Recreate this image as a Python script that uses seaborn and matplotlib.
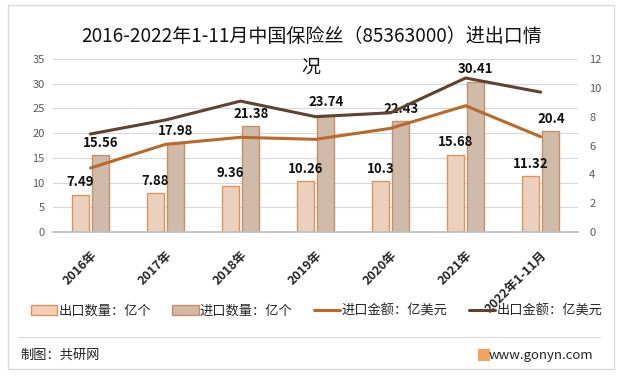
import pandas as pd
import matplotlib.pyplot as plt
import seaborn as sns
from matplotlib.patches import Rectangle, Patch
from matplotlib.lines import Line2D

# data
years = ["2016年", "2017年", "2018年", "2019年", "2020年", "2021年", "2022年1-11月"]
export_qty = [7.49, 7.88, 9.36, 10.26, 10.3, 15.68, 11.32]      # 出口数量：亿个
import_qty = [15.56, 17.98, 21.38, 23.74, 22.43, 30.41, 20.4]   # 进口数量：亿个
import_amt = [4.44, 6.08, 6.57, 6.43, 7.19, 8.76, 6.61]         # 进口金额：亿美元
export_amt = [6.80, 7.77, 9.08, 8.00, 8.27, 10.68, 9.70]        # 出口金额：亿美元

sns.set_theme(style="white")
plt.rcParams['font.family'] = ['Noto Sans CJK SC', 'DejaVu Sans']

qty = pd.DataFrame({
    "year": years * 2,
    "value": export_qty + import_qty,
    "kind": ["出口数量：亿个"] * 7 + ["进口数量：亿个"] * 7,
})

c_exp_fill, c_exp_edge = "#F3D0B5", "#D8945C"
c_imp_fill, c_imp_edge = "#D6B9A3", "#C3906C"
c_imp_line = "#B8692C"
c_exp_line = "#5E4332"

fig = plt.figure(figsize=(6.23, 3.78), dpi=100)
ax = fig.add_axes([0.085, 0.386, 0.843, 0.458])

sns.barplot(data=qty, x="year", y="value", hue="kind", ax=ax,
            palette=[c_exp_fill, c_imp_fill], width=0.55, gap=0.18,
            legend=False)
edges = [c_exp_edge] * 7 + [c_imp_edge] * 7
for bar, ec in zip(ax.patches, edges):
    bar.set_edgecolor(ec)
    bar.set_linewidth(1.0)

for cont in ax.containers:
    ax.bar_label(cont, labels=[f"{v:g}" for v in cont.datavalues],
                 padding=4, fontsize=9.5, fontweight="bold", color="#111111")

ax.set_ylim(0, 35)
ax.set_yticks(range(0, 36, 5))
ax.yaxis.grid(True, color="#D9D9D9", linewidth=0.8)
ax.set_axisbelow(True)
ax.set_xlabel("")
ax.set_ylabel("")
ax.set_xlim(-0.5, 6.5)
ax.tick_params(axis="y", labelsize=8, labelcolor="#595959", length=0, pad=6)
ax.tick_params(axis="x", length=0, pad=12)
for lab in ax.get_xticklabels():
    lab.set_rotation(45)
    lab.set_ha("right")
    lab.set_rotation_mode("anchor")
    lab.set_fontweight("bold")
    lab.set_fontsize(9)
for s in ["top", "right", "left"]:
    ax.spines[s].set_visible(False)
ax.spines["bottom"].set_color("#BFBFBF")

ax2 = ax.twinx()
pos = list(range(len(years)))
sns.lineplot(x=pos, y=import_amt, ax=ax2, color=c_imp_line, linewidth=2.2, sort=False)
sns.lineplot(x=pos, y=export_amt, ax=ax2, color=c_exp_line, linewidth=2.2, sort=False)
ax2.set_ylim(0, 12)
ax2.set_yticks(range(0, 13, 2))
ax2.tick_params(axis="y", labelsize=8, labelcolor="#595959", length=0, pad=8)
for s in ["top", "right", "left", "bottom"]:
    ax2.spines[s].set_visible(False)
ax2.set_xlim(-0.5, 6.5)

fig.text(312 / 623, 1 - 36 / 378, "2016-2022年1-11月中国保险丝（85363000）进出口情",
         ha="center", va="center", fontsize=13.7, color="#111111")
fig.text(311 / 623, 1 - 67 / 378, "况", ha="center", va="center", fontsize=13.7, color="#111111")

handles = [
    Patch(facecolor=c_exp_fill, edgecolor=c_exp_edge, label="出口数量：亿个"),
    Patch(facecolor=c_imp_fill, edgecolor=c_imp_edge, label="进口数量：亿个"),
    Line2D([], [], color=c_imp_line, linewidth=2.2, label="进口金额：亿美元"),
    Line2D([], [], color=c_exp_line, linewidth=2.2, label="出口金额：亿美元"),
]
fig.legend(handles=handles, loc="center", bbox_to_anchor=(0.508, 1 - 311 / 378),
           ncol=4, frameon=False, fontsize=9.5, handlelength=2.0, handleheight=0.8,
           handletextpad=0.1, columnspacing=1.6)

# outer frame, separator and footer
fig.patches.append(Rectangle((8 / 623, 1 - 369 / 378), 606 / 623, 364 / 378,
                             transform=fig.transFigure, fill=False,
                             edgecolor="#D9D9D9", linewidth=1.0))
fig.add_artist(Line2D([18 / 623, 600 / 623], [1 - 337 / 378] * 2,
                      transform=fig.transFigure, color="#D9D9D9", linewidth=0.8))
fig.text(20 / 623, 1 - 355 / 378, "制图：共研网", ha="left", va="center",
         fontsize=9.5, color="#222222")
fig.patches.append(Rectangle((478 / 623, 1 - 361 / 378), 12 / 623, 12 / 378,
                             transform=fig.transFigure, facecolor="#F2A15E",
                             edgecolor="none"))
fig.text(593 / 623, 1 - 355 / 378, "www.gonyn.com", ha="right", va="center",
         fontsize=9.5, color="#222222")

fig.savefig("out.png", dpi=100)
